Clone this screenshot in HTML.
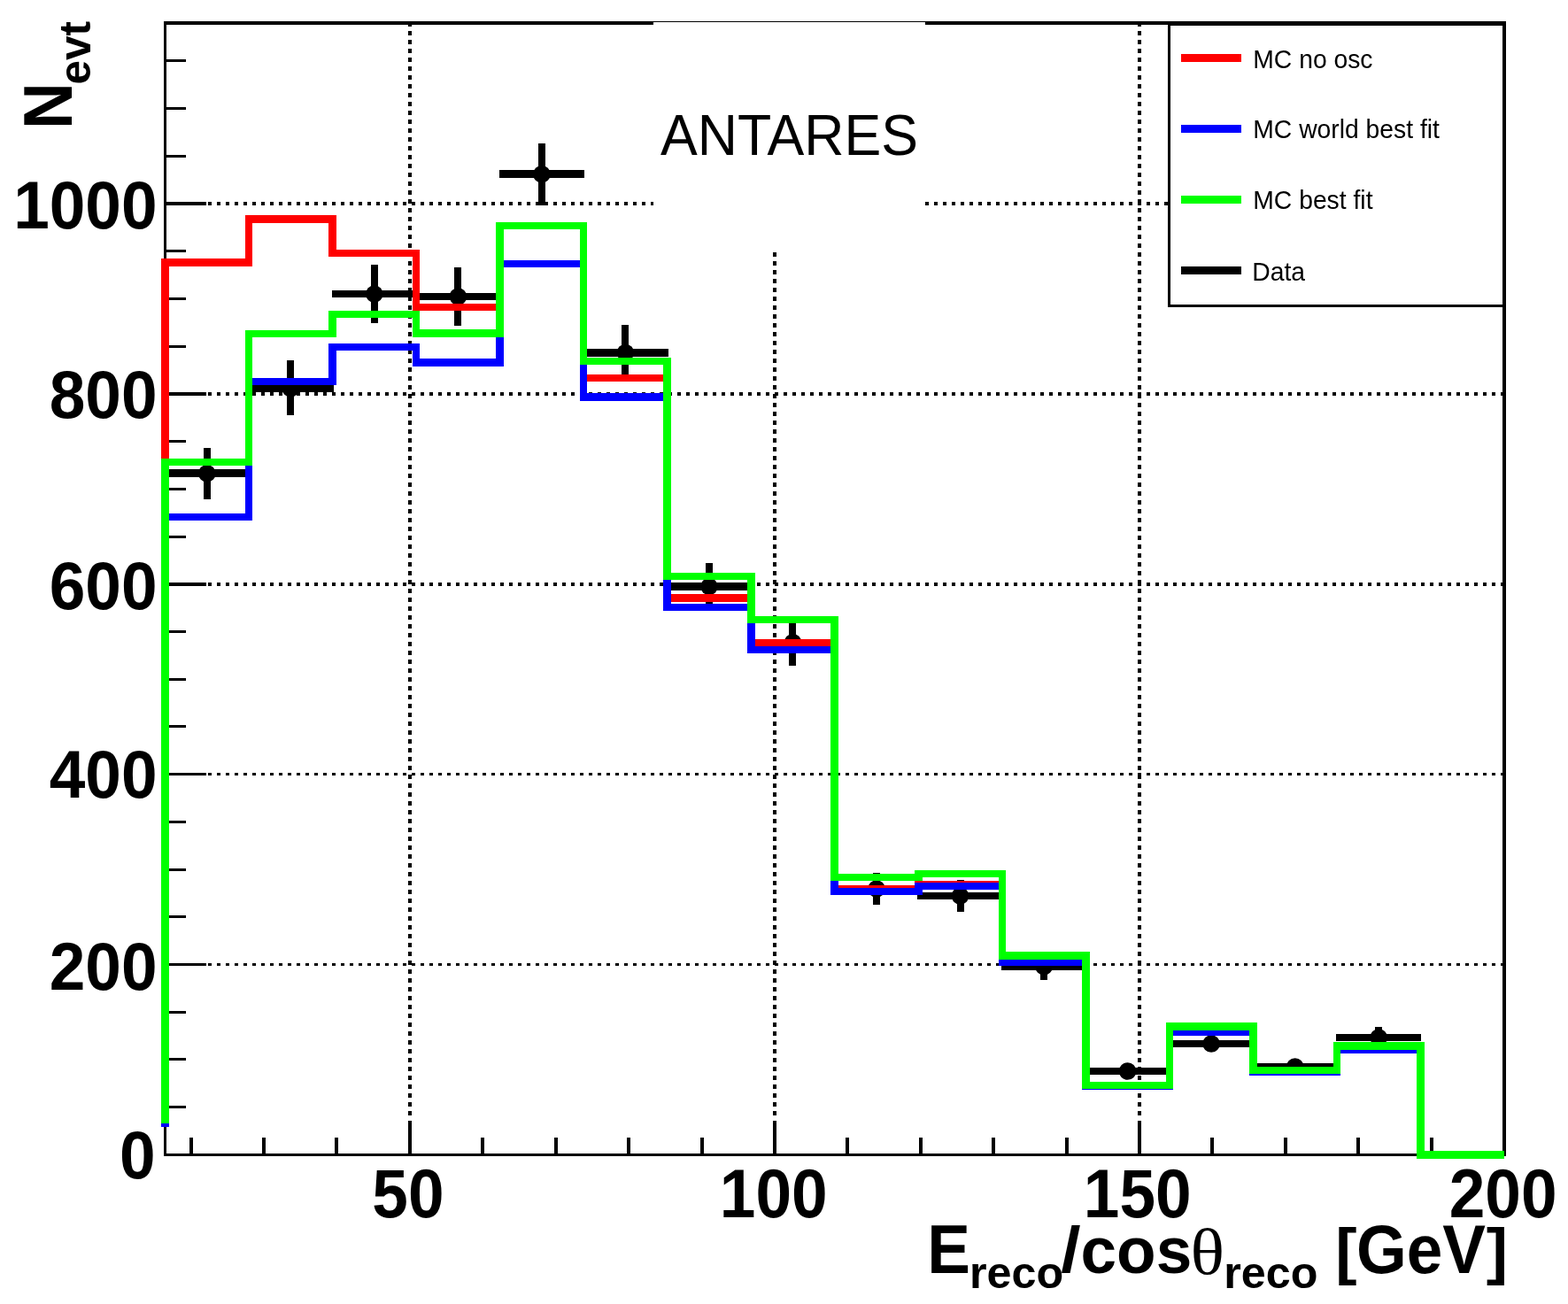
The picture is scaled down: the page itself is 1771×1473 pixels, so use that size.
<!DOCTYPE html>
<html lang="en"><head><meta charset="utf-8"><title>ANTARES</title>
<style>html,body{margin:0;padding:0;background:#fff}body{width:1771px;height:1473px;overflow:hidden}svg{display:block}</style>
</head><body>
<svg width="1771" height="1473" viewBox="0 0 1771 1473" shape-rendering="crispEdges">
<rect width="1771" height="1473" fill="#fff"/>
<g stroke="#000" fill="none"><line x1="463" y1="25" x2="463" y2="1265" stroke-width="4" stroke-dasharray="5 5"/><line x1="875" y1="25" x2="875" y2="1265" stroke-width="4" stroke-dasharray="5 5"/><line x1="1287" y1="25" x2="1287" y2="1265" stroke-width="4" stroke-dasharray="5 5"/><line x1="185" y1="1089.5" x2="1699" y2="1089.5" stroke-width="3" stroke-dasharray="4 6"/><line x1="185" y1="874.5" x2="1699" y2="874.5" stroke-width="3" stroke-dasharray="4 6"/><line x1="185" y1="660.0" x2="1699" y2="660.0" stroke-width="4" stroke-dasharray="4 6"/><line x1="185" y1="445.0" x2="1699" y2="445.0" stroke-width="4" stroke-dasharray="4 6"/><line x1="185" y1="230.0" x2="1699" y2="230.0" stroke-width="4" stroke-dasharray="4 6"/></g>
<rect x="738" y="25" width="307" height="260" fill="#fff"/>
<g fill="#000">
<rect x="185" y="24" width="553" height="4" fill="#000"/>
<rect x="738" y="24" width="307" height="1" fill="#000"/>
<rect x="1045" y="24" width="656" height="4" fill="#000"/>
<rect x="185" y="1303" width="1516" height="3" fill="#000"/>
<rect x="185" y="24" width="3" height="1282" fill="#000"/>
<rect x="1697" y="24" width="4" height="1282" fill="#000"/>
<rect x="214" y="1285" width="4" height="19" fill="#000"/>
<rect x="296" y="1285" width="4" height="19" fill="#000"/>
<rect x="378" y="1285" width="4" height="19" fill="#000"/>
<rect x="461" y="1266" width="4" height="38" fill="#000"/>
<rect x="543" y="1285" width="4" height="19" fill="#000"/>
<rect x="626" y="1285" width="4" height="19" fill="#000"/>
<rect x="708" y="1285" width="4" height="19" fill="#000"/>
<rect x="791" y="1285" width="4" height="19" fill="#000"/>
<rect x="873" y="1266" width="4" height="38" fill="#000"/>
<rect x="955" y="1285" width="4" height="19" fill="#000"/>
<rect x="1038" y="1285" width="4" height="19" fill="#000"/>
<rect x="1120" y="1285" width="4" height="19" fill="#000"/>
<rect x="1203" y="1285" width="4" height="19" fill="#000"/>
<rect x="1285" y="1266" width="4" height="38" fill="#000"/>
<rect x="1367" y="1285" width="4" height="19" fill="#000"/>
<rect x="1450" y="1285" width="4" height="19" fill="#000"/>
<rect x="1532" y="1285" width="4" height="19" fill="#000"/>
<rect x="1615" y="1285" width="4" height="19" fill="#000"/>
<rect x="186" y="1249" width="24" height="3" fill="#000"/>
<rect x="186" y="1195" width="24" height="3" fill="#000"/>
<rect x="186" y="1142" width="24" height="3" fill="#000"/>
<rect x="186" y="1088" width="47" height="3" fill="#000"/>
<rect x="186" y="1034" width="24" height="3" fill="#000"/>
<rect x="186" y="981" width="24" height="3" fill="#000"/>
<rect x="186" y="927" width="24" height="3" fill="#000"/>
<rect x="186" y="873" width="47" height="3" fill="#000"/>
<rect x="186" y="819" width="24" height="3" fill="#000"/>
<rect x="186" y="766" width="24" height="3" fill="#000"/>
<rect x="186" y="712" width="24" height="3" fill="#000"/>
<rect x="186" y="658" width="47" height="4" fill="#000"/>
<rect x="186" y="605" width="24" height="3" fill="#000"/>
<rect x="186" y="551" width="24" height="3" fill="#000"/>
<rect x="186" y="497" width="24" height="3" fill="#000"/>
<rect x="186" y="443" width="47" height="4" fill="#000"/>
<rect x="186" y="390" width="24" height="3" fill="#000"/>
<rect x="186" y="336" width="24" height="3" fill="#000"/>
<rect x="186" y="282" width="24" height="3" fill="#000"/>
<rect x="186" y="228" width="47" height="4" fill="#000"/>
<rect x="186" y="175" width="24" height="3" fill="#000"/>
<rect x="186" y="121" width="24" height="3" fill="#000"/>
<rect x="186" y="67" width="24" height="3" fill="#000"/>
</g>
<g fill="#000">
<rect x="185" y="530" width="97" height="9" fill="#000"/>
<rect x="230" y="506" width="8" height="58" fill="#000"/>
<circle cx="233.8" cy="534.8" r="9.8" shape-rendering="auto"/>
<rect x="280" y="435" width="97" height="8" fill="#000"/>
<rect x="324" y="407" width="8" height="62" fill="#000"/>
<circle cx="328.3" cy="438.9" r="9.8" shape-rendering="auto"/>
<rect x="375" y="328" width="96" height="8" fill="#000"/>
<rect x="419" y="299" width="8" height="66" fill="#000"/>
<circle cx="422.8" cy="332.1" r="9.8" shape-rendering="auto"/>
<rect x="469" y="331" width="97" height="8" fill="#000"/>
<rect x="513" y="302" width="8" height="66" fill="#000"/>
<circle cx="517.4" cy="335.0" r="9.8" shape-rendering="auto"/>
<rect x="564" y="192" width="96" height="9" fill="#000"/>
<rect x="608" y="162" width="8" height="70" fill="#000"/>
<circle cx="611.9" cy="196.7" r="9.8" shape-rendering="auto"/>
<rect x="658" y="394" width="97" height="9" fill="#000"/>
<rect x="702" y="367" width="8" height="63" fill="#000"/>
<circle cx="706.4" cy="398.5" r="9.8" shape-rendering="auto"/>
<rect x="753" y="658" width="96" height="9" fill="#000"/>
<rect x="797" y="636" width="8" height="53" fill="#000"/>
<circle cx="801.0" cy="662.6" r="9.8" shape-rendering="auto"/>
<rect x="847" y="722" width="97" height="8" fill="#000"/>
<rect x="891" y="700" width="8" height="52" fill="#000"/>
<circle cx="895.5" cy="725.8" r="9.8" shape-rendering="auto"/>
<rect x="942" y="1000" width="96" height="8" fill="#000"/>
<rect x="986" y="986" width="8" height="36" fill="#000"/>
<circle cx="990.0" cy="1004.0" r="9.8" shape-rendering="auto"/>
<rect x="1036" y="1008" width="97" height="8" fill="#000"/>
<rect x="1081" y="994" width="8" height="36" fill="#000"/>
<circle cx="1084.5" cy="1012.0" r="9.8" shape-rendering="auto"/>
<rect x="1131" y="1088" width="96" height="8" fill="#000"/>
<rect x="1175" y="1077" width="8" height="30" fill="#000"/>
<circle cx="1179.1" cy="1091.9" r="9.8" shape-rendering="auto"/>
<rect x="1225" y="1206" width="97" height="8" fill="#000"/>
<rect x="1270" y="1202" width="8" height="16" fill="#000"/>
<circle cx="1273.6" cy="1210.0" r="9.8" shape-rendering="auto"/>
<rect x="1320" y="1175" width="96" height="8" fill="#000"/>
<rect x="1364" y="1171" width="8" height="16" fill="#000"/>
<circle cx="1368.1" cy="1179.0" r="9.8" shape-rendering="auto"/>
<rect x="1414" y="1201" width="97" height="8" fill="#000"/>
<rect x="1459" y="1197" width="8" height="16" fill="#000"/>
<circle cx="1462.7" cy="1205.0" r="9.8" shape-rendering="auto"/>
<rect x="1509" y="1168" width="96" height="8" fill="#000"/>
<rect x="1553" y="1160" width="8" height="24" fill="#000"/>
<circle cx="1557.2" cy="1172.0" r="9.8" shape-rendering="auto"/>
</g>
<rect x="182" y="292" width="9" height="979" fill="#ff0000"/><rect x="182" y="292" width="103" height="9" fill="#ff0000"/><rect x="277" y="243" width="8" height="58" fill="#ff0000"/><rect x="277" y="243" width="103" height="9" fill="#ff0000"/><rect x="371" y="243" width="9" height="47" fill="#ff0000"/><rect x="371" y="282" width="103" height="8" fill="#ff0000"/><rect x="466" y="282" width="8" height="69" fill="#ff0000"/><rect x="466" y="343" width="103" height="8" fill="#ff0000"/><rect x="560" y="251" width="9" height="100" fill="#ff0000"/><rect x="560" y="251" width="103" height="8" fill="#ff0000"/><rect x="655" y="251" width="8" height="180" fill="#ff0000"/><rect x="655" y="423" width="103" height="8" fill="#ff0000"/><rect x="749" y="423" width="9" height="257" fill="#ff0000"/><rect x="749" y="671" width="104" height="9" fill="#ff0000"/><rect x="844" y="671" width="9" height="60" fill="#ff0000"/><rect x="844" y="722" width="103" height="9" fill="#ff0000"/><rect x="938" y="722" width="9" height="286" fill="#ff0000"/><rect x="938" y="1000" width="104" height="8" fill="#ff0000"/><rect x="1033" y="995" width="9" height="13" fill="#ff0000"/><rect x="1033" y="995" width="103" height="8" fill="#ff0000"/><rect x="1128" y="995" width="8" height="92" fill="#ff0000"/><rect x="1128" y="1079" width="103" height="8" fill="#ff0000"/><rect x="1222" y="1079" width="9" height="151" fill="#ff0000"/><rect x="1222" y="1222" width="103" height="8" fill="#ff0000"/><rect x="1317" y="1159" width="8" height="71" fill="#ff0000"/><rect x="1317" y="1159" width="103" height="8" fill="#ff0000"/><rect x="1411" y="1159" width="9" height="55" fill="#ff0000"/><rect x="1411" y="1206" width="103" height="8" fill="#ff0000"/><rect x="1506" y="1180" width="8" height="34" fill="#ff0000"/><rect x="1506" y="1180" width="103" height="8" fill="#ff0000"/><rect x="1600" y="1180" width="9" height="129" fill="#ff0000"/><rect x="1600" y="1300" width="99" height="9" fill="#ff0000"/>
<rect x="182" y="580" width="9" height="693" fill="#0000ff"/><rect x="182" y="580" width="103" height="8" fill="#0000ff"/><rect x="277" y="427" width="8" height="161" fill="#0000ff"/><rect x="277" y="427" width="103" height="8" fill="#0000ff"/><rect x="371" y="388" width="9" height="47" fill="#0000ff"/><rect x="371" y="388" width="103" height="8" fill="#0000ff"/><rect x="466" y="388" width="8" height="26" fill="#0000ff"/><rect x="466" y="405" width="103" height="9" fill="#0000ff"/><rect x="560" y="294" width="9" height="120" fill="#0000ff"/><rect x="560" y="294" width="103" height="8" fill="#0000ff"/><rect x="655" y="294" width="8" height="159" fill="#0000ff"/><rect x="655" y="444" width="103" height="9" fill="#0000ff"/><rect x="749" y="444" width="9" height="246" fill="#0000ff"/><rect x="749" y="682" width="104" height="8" fill="#0000ff"/><rect x="844" y="682" width="9" height="56" fill="#0000ff"/><rect x="844" y="730" width="103" height="8" fill="#0000ff"/><rect x="938" y="730" width="9" height="281" fill="#0000ff"/><rect x="938" y="1003" width="104" height="8" fill="#0000ff"/><rect x="1033" y="997" width="9" height="14" fill="#0000ff"/><rect x="1033" y="997" width="103" height="8" fill="#0000ff"/><rect x="1128" y="997" width="8" height="94" fill="#0000ff"/><rect x="1128" y="1083" width="103" height="8" fill="#0000ff"/><rect x="1222" y="1083" width="9" height="148" fill="#0000ff"/><rect x="1222" y="1222" width="103" height="9" fill="#0000ff"/><rect x="1317" y="1162" width="8" height="69" fill="#0000ff"/><rect x="1317" y="1162" width="103" height="8" fill="#0000ff"/><rect x="1411" y="1162" width="9" height="53" fill="#0000ff"/><rect x="1411" y="1207" width="103" height="8" fill="#0000ff"/><rect x="1506" y="1182" width="8" height="33" fill="#0000ff"/><rect x="1506" y="1182" width="103" height="8" fill="#0000ff"/><rect x="1600" y="1182" width="9" height="127" fill="#0000ff"/><rect x="1600" y="1300" width="99" height="9" fill="#0000ff"/>
<rect x="182" y="518" width="9" height="751" fill="#00ff00"/><rect x="182" y="518" width="103" height="8" fill="#00ff00"/><rect x="277" y="373" width="8" height="153" fill="#00ff00"/><rect x="277" y="373" width="103" height="8" fill="#00ff00"/><rect x="371" y="351" width="9" height="30" fill="#00ff00"/><rect x="371" y="351" width="103" height="8" fill="#00ff00"/><rect x="466" y="351" width="8" height="30" fill="#00ff00"/><rect x="466" y="372" width="103" height="9" fill="#00ff00"/><rect x="560" y="251" width="9" height="130" fill="#00ff00"/><rect x="560" y="251" width="103" height="8" fill="#00ff00"/><rect x="655" y="251" width="8" height="161" fill="#00ff00"/><rect x="655" y="404" width="103" height="8" fill="#00ff00"/><rect x="749" y="404" width="9" height="251" fill="#00ff00"/><rect x="749" y="647" width="104" height="8" fill="#00ff00"/><rect x="844" y="647" width="9" height="57" fill="#00ff00"/><rect x="844" y="696" width="103" height="8" fill="#00ff00"/><rect x="938" y="696" width="9" height="299" fill="#00ff00"/><rect x="938" y="987" width="104" height="8" fill="#00ff00"/><rect x="1033" y="983" width="9" height="12" fill="#00ff00"/><rect x="1033" y="983" width="103" height="8" fill="#00ff00"/><rect x="1128" y="983" width="8" height="101" fill="#00ff00"/><rect x="1128" y="1075" width="103" height="9" fill="#00ff00"/><rect x="1222" y="1075" width="9" height="155" fill="#00ff00"/><rect x="1222" y="1222" width="103" height="8" fill="#00ff00"/><rect x="1317" y="1155" width="8" height="75" fill="#00ff00"/><rect x="1317" y="1155" width="103" height="9" fill="#00ff00"/><rect x="1411" y="1155" width="9" height="58" fill="#00ff00"/><rect x="1411" y="1205" width="103" height="8" fill="#00ff00"/><rect x="1506" y="1177" width="8" height="36" fill="#00ff00"/><rect x="1506" y="1177" width="103" height="9" fill="#00ff00"/><rect x="1600" y="1177" width="9" height="132" fill="#00ff00"/><rect x="1600" y="1300" width="99" height="9" fill="#00ff00"/>
<rect x="1320.5" y="27" width="378.5" height="318.5" fill="#fff" stroke="#000" stroke-width="3"/>
<line x1="1699" y1="24" x2="1699" y2="347" stroke="#000" stroke-width="4"/>
<line x1="1319" y1="25.5" x2="1701" y2="25.5" stroke="#000" stroke-width="3"/>
<line x1="1334" y1="65.5" x2="1402" y2="65.5" stroke="#ff0000" stroke-width="9"/>
<text transform="translate(1415.30,76.50) scale(1,1.070)" text-anchor="start" font-family="'Liberation Sans', sans-serif" font-weight="normal" font-size="28.30" fill="#000" shape-rendering="auto" >MC no osc</text>
<line x1="1334" y1="145.2" x2="1402" y2="145.2" stroke="#0000ff" stroke-width="9"/>
<text transform="translate(1415.30,156.20) scale(1,1.070)" text-anchor="start" font-family="'Liberation Sans', sans-serif" font-weight="normal" font-size="28.30" fill="#000" shape-rendering="auto" >MC world best fit</text>
<line x1="1334" y1="225.5" x2="1402" y2="225.5" stroke="#00ff00" stroke-width="9"/>
<text transform="translate(1415.30,235.70) scale(1,1.070)" text-anchor="start" font-family="'Liberation Sans', sans-serif" font-weight="normal" font-size="28.30" fill="#000" shape-rendering="auto" >MC best fit</text>
<line x1="1334" y1="305.5" x2="1402" y2="305.5" stroke="#000000" stroke-width="9"/>
<text transform="translate(1414.30,316.50) scale(1,1.070)" text-anchor="start" font-family="'Liberation Sans', sans-serif" font-weight="normal" font-size="28.30" fill="#000" shape-rendering="auto" >Data</text>
<text transform="translate(746.00,175.00) scale(1,1.040)" text-anchor="start" font-family="'Liberation Sans', sans-serif" font-weight="normal" font-size="62.60" fill="#000" shape-rendering="auto" >ANTARES</text>
<text transform="translate(460.90,1374.60) scale(1,1.060)" text-anchor="middle" font-family="'Liberation Sans', sans-serif" font-weight="bold" font-size="73.00" fill="#000" shape-rendering="auto" >50</text>
<text transform="translate(873.73,1374.60) scale(1,1.060)" text-anchor="middle" font-family="'Liberation Sans', sans-serif" font-weight="bold" font-size="73.00" fill="#000" shape-rendering="auto" >100</text>
<text transform="translate(1284.77,1374.60) scale(1,1.060)" text-anchor="middle" font-family="'Liberation Sans', sans-serif" font-weight="bold" font-size="73.00" fill="#000" shape-rendering="auto" >150</text>
<text transform="translate(1697.61,1374.60) scale(1,1.060)" text-anchor="middle" font-family="'Liberation Sans', sans-serif" font-weight="bold" font-size="73.00" fill="#000" shape-rendering="auto" >200</text>
<text transform="translate(175.50,1331.10) scale(1,1.050)" text-anchor="end" font-family="'Liberation Sans', sans-serif" font-weight="bold" font-size="73.00" fill="#000" shape-rendering="auto" >0</text>
<text transform="translate(177.50,1118.24) scale(1,1.050)" text-anchor="end" font-family="'Liberation Sans', sans-serif" font-weight="bold" font-size="73.00" fill="#000" shape-rendering="auto" >200</text>
<text transform="translate(177.50,901.38) scale(1,1.050)" text-anchor="end" font-family="'Liberation Sans', sans-serif" font-weight="bold" font-size="73.00" fill="#000" shape-rendering="auto" >400</text>
<text transform="translate(177.50,687.52) scale(1,1.050)" text-anchor="end" font-family="'Liberation Sans', sans-serif" font-weight="bold" font-size="73.00" fill="#000" shape-rendering="auto" >600</text>
<text transform="translate(177.50,471.66) scale(1,1.050)" text-anchor="end" font-family="'Liberation Sans', sans-serif" font-weight="bold" font-size="73.00" fill="#000" shape-rendering="auto" >800</text>
<text transform="translate(177.50,257.80) scale(1,1.050)" text-anchor="end" font-family="'Liberation Sans', sans-serif" font-weight="bold" font-size="73.00" fill="#000" shape-rendering="auto" >1000</text>
<text transform="translate(0,1438.30) scale(1,1.06)" font-family="'Liberation Sans', sans-serif" font-weight="bold" font-size="73" fill="#000" shape-rendering="auto"><tspan x="1047.30" y="0.00" font-size="73.00">E</tspan><tspan x="1095.00" y="15.47" font-size="47.20" textLength="106.20" lengthAdjust="spacingAndGlyphs">reco</tspan><tspan x="1198.20" y="-0.90" font-size="68.60" textLength="22.40" lengthAdjust="spacingAndGlyphs">/</tspan><tspan x="1220.50" y="0.00" font-size="70.00" textLength="125.80" lengthAdjust="spacingAndGlyphs">cos</tspan><tspan x="1344.60" y="0.57" font-size="69.00" textLength="38.56" lengthAdjust="spacingAndGlyphs" font-family="'Liberation Serif', serif" font-weight="normal">θ</tspan><tspan x="1382.20" y="15.47" font-size="47.20" textLength="106.20" lengthAdjust="spacingAndGlyphs">reco</tspan><tspan font-size="20"> </tspan><tspan x="1508.30" y="-1.13" font-size="67.20" textLength="24.31" lengthAdjust="spacingAndGlyphs">[</tspan><tspan x="1531.92" y="0.00" font-size="73.00">GeV</tspan><tspan x="1678.69" y="-1.13" font-size="67.20" textLength="24.31" lengthAdjust="spacingAndGlyphs">]</tspan></text>
<text transform="translate(81.1,146) rotate(-90) scale(1,1.06)" font-family="'Liberation Sans', sans-serif" font-weight="bold" font-size="73" fill="#000" shape-rendering="auto"><tspan x="0.00" y="0.00" font-size="73.00">N</tspan><tspan x="50.50" y="19.62" font-size="47.60" textLength="71.55" lengthAdjust="spacingAndGlyphs">evt</tspan></text>
</svg>
</body></html>
